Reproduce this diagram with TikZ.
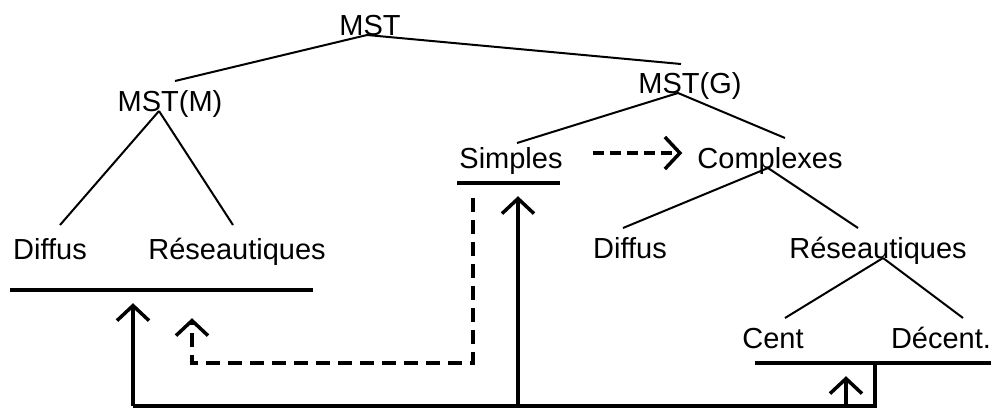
\documentclass[tikz,border=0pt]{standalone}
\usepackage{fontspec}
\setmainfont{Liberation Sans}
\usetikzlibrary{arrows.meta}

\begin{document}
\begin{tikzpicture}[x=1pt,y=-1pt,
    lbl/.style={inner sep=0pt,anchor=base,font=\fontsize{29}{29}\selectfont},
    branch/.style={line width=2pt},
    bar/.style={fill=black,inner sep=0pt,minimum height=4pt},
    fbline/.style={line width=3.5pt},
    fbarrow/.style={line width=3.5pt,shorten >=11pt,-{Straight Barb[length=15pt,width=32pt]}},
    dsarrow/.style={line width=3.5pt,dash pattern=on 14pt off 8pt,-{Straight Barb[length=15pt,width=32pt]}}]
\useasboundingbox (0,0) rectangle (991,408);
\node[lbl] (mst) at (370,35) {MST};
\node[lbl] (mstm) at (170,111) {MST(M)};
\node[lbl] (mstg) at (690,93) {MST(G)};
\node[lbl] (simples) at (511,168) {Simples};
\node[lbl] (complexes) at (770,168) {Complexes};
\node[lbl] (diffm) at (50,259) {Diffus};
\node[lbl] (resm) at (237,259) {Réseautiques};
\node[lbl] (diffg) at (630,258) {Diffus};
\node[lbl] (resg) at (878,258) {Réseautiques};
\node[lbl] (cent) at (773,348) {Cent};
\node[lbl] (decent) at (941,348) {Décent.};
\draw[branch] ([xshift=-3pt]mst.base) -- ([xshift=5pt,yshift=30pt]mstm.base);
\draw[branch] ([xshift=-3pt]mst.base) -- ([xshift=-9pt,yshift=29pt]mstg.base);
\draw[branch] ([xshift=-11pt]mstm.base) -- ([xshift=10pt,yshift=34pt]diffm.base);
\draw[branch] ([xshift=-11pt]mstm.base) -- ([xshift=-4pt,yshift=34pt]resm.base);
\draw[branch] ([xshift=-12pt]mstg.base) -- ([xshift=6pt,yshift=25pt]simples.base);
\draw[branch] ([xshift=-12pt]mstg.base) -- ([xshift=15pt,yshift=30pt]complexes.base);
\draw[branch] ([xshift=-2pt]complexes.base) -- ([xshift=-7pt,yshift=30pt]diffg.base);
\draw[branch] ([xshift=-2pt]complexes.base) -- ([xshift=-20pt,yshift=30pt]resg.base);
\draw[branch] ([xshift=5pt]resg.base) -- ([xshift=12pt,yshift=30pt]cent.base);
\draw[branch] ([xshift=5pt]resg.base) -- ([xshift=22pt,yshift=30pt]decent.base);
\node[bar,minimum width=303pt] (barm) at (161.5,290) {};
\node[bar,minimum width=103pt] (bars) at (508.5,183) {};
\node[bar,minimum width=236pt] (barg) at (873,363) {};
\draw[dsarrow,dash pattern=on 11pt off 6pt] ([xshift=30pt,yshift=15pt]simples.base east) -- ([xshift=-15pt,yshift=15pt]complexes.base west);
\coordinate (fbL) at (133,406);
\coordinate (fbS) at (518,406);
\coordinate (fbG) at (846,406);
\coordinate (fbR) at (875,406);
\draw[fbline] (barg.south -| fbR) -- (fbR) -- (fbL);
\draw[fbarrow] (fbL) -- (fbL |- barm.south);
\draw[fbarrow] (fbS) -- (fbS |- bars.south);
\draw[fbarrow] (fbG) -- (fbG |- barg.south);
\coordinate (dsS) at (473,363);
\coordinate (dsM) at (192,363);
\draw[dsarrow,shorten <=13pt,shorten >=26pt] (bars.south -| dsS) -- (dsS) -- (dsM) -- (dsM |- barm.south);
\end{tikzpicture}
\end{document}
